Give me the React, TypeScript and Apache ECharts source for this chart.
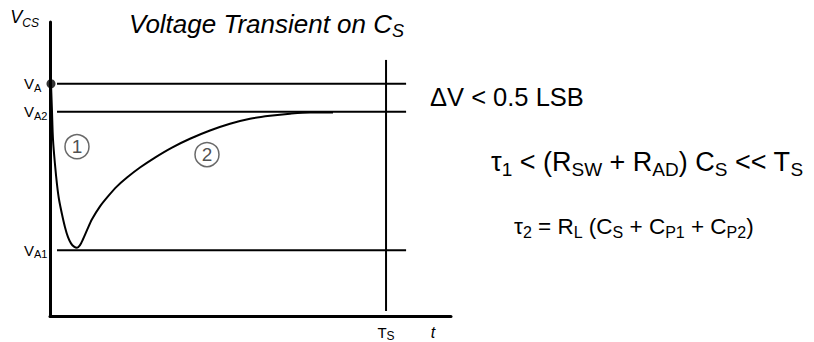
import React, { useEffect, useRef } from "react";
import * as echarts from "echarts";

// ---- data (time axis 0..100, voltage axis 0..100, arbitrary units) ----
const levelNames = ["A", "A2", "A1"];
const levelValues = [79, 69.5, 22.4];
const levelLineStart = 1.75;
const levelLineEnd = 88.8;
const sampleTime = 83.8;
const sampleLineFrom = 1.7;
const sampleLineTo = 87.1;
const timeLabelPos = 95.5;
const curveTime = [0.25, 0.5, 0.75, 1.25, 1.75, 2.24, 2.99, 3.74, 4.49, 5.24, 5.99, 6.73, 7.48, 8.23, 9.23, 10.47, 12.47, 14.46, 16.71, 19.2, 22.44, 26.18, 30.42, 34.91, 39.9, 44.89, 49.88, 54.86, 59.85, 64.84, 70.57];
const curveVolt = [79.0, 69.5, 60.0, 51.5, 44.7, 39.7, 34.6, 30.2, 26.8, 24.7, 23.6, 23.2, 24.1, 26.1, 29.2, 32.9, 37.3, 40.7, 44.1, 47.1, 50.5, 53.9, 57.3, 60.3, 63.1, 65.4, 67.1, 68.1, 68.8, 69.2, 69.2];
const markerLabels = ["1", "2"];
const markerTime = [6.73, 39.15];
const markerVolt = [57.6, 54.9];

const FONT = '"Liberation Sans", Arial, Helvetica, sans-serif';

export default function App() {
  const ref = useRef<HTMLDivElement>(null);
  useEffect(() => {
    if (!ref.current) return;
    const chart = echarts.init(ref.current, null, { renderer: "svg" });

    const levelSeries = levelValues.map((v, i) => ({
      type: "line",
      name: "V" + levelNames[i],
      data: [
        [levelLineStart, v],
        [levelLineEnd, v],
      ],
      symbol: "none",
      lineStyle: { color: "#000", width: 2 },
      z: 2,
    }));

    const subRich = (main: number, sub: number, italic = false) => ({
      m: { fontSize: main, fontFamily: FONT, fontWeight: "normal", fontStyle: italic ? "italic" : "normal", color: "#000", lineHeight: Math.round(main * 1.25), verticalAlign: "middle" },
      s: { fontSize: sub, fontFamily: FONT, fontWeight: "normal", fontStyle: italic ? "italic" : "normal", color: "#000", lineHeight: Math.round(sub * 0.85), verticalAlign: "bottom" },
    });

    const option: any = {
      animation: false,
      backgroundColor: "#fff",
      title: {
        text: "{m|Voltage Transient on C}{s|S}",
        left: 124,
        top: 2,
        textStyle: { fontWeight: "normal", rich: subRich(26, 18, true) },
      },
      grid: { left: 50, top: 22, width: 401, height: 295, containLabel: false },
      xAxis: {
        type: "value",
        min: 0,
        max: 100,
        axisLine: { show: true, onZero: false, lineStyle: { color: "#000", width: 3 } },
        axisTick: { show: false },
        splitLine: { show: false },
        axisLabel: {
          show: true,
          customValues: [sampleTime, timeLabelPos],
          margin: 7,
          formatter: (v: number) => (v === timeLabelPos ? "{i|t}" : "{m|T}{s|S}"),
          rich: {
            ...subRich(15, 12),
            i: { fontSize: 16, fontFamily: FONT, fontStyle: "italic", color: "#000", lineHeight: 19 },
          },
        },
      },
      yAxis: {
        type: "value",
        min: 0,
        max: 100,
        name: "{m|V}{s|CS}",
        nameLocation: "end",
        nameGap: 5,
        nameTextStyle: { align: "right", verticalAlign: "middle", padding: [0, 11, 0, 0], rich: subRich(18, 12, true) },
        axisLine: { show: true, onZero: false, lineStyle: { color: "#000", width: 3 } },
        axisTick: { show: false },
        splitLine: { show: false },
        axisLabel: {
          show: true,
          customValues: levelValues,
          align: "left",
          margin: 26,
          formatter: (v: number) => "{m|V}{s|" + levelNames[levelValues.indexOf(v)] + "}",
          rich: subRich(15, 11),
        },
      },
      graphic: [
        {
          type: "text",
          left: 430,
          top: 84,
          style: { text: "ΔV < 0.5 LSB", font: "25.5px " + FONT, fill: "#000" },
        },
        {
          type: "text",
          left: 491,
          top: 148,
          style: {
            text: "{m|τ}{s|1}{m| < (R}{s|SW}{m| + R}{s|AD}{m|) C}{s|S}{m| << T}{s|S}",
            rich: subRich(27, 19),
          },
        },
        {
          type: "text",
          left: 514,
          top: 215,
          style: {
            text: "{m|τ}{s|2}{m| = R}{s|L}{m| (C}{s|S}{m| + C}{s|P1}{m| + C}{s|P2}{m|)}",
            rich: subRich(22.5, 16),
          },
        },
      ],
      series: [
        ...levelSeries,
        {
          type: "line",
          name: "TS",
          data: [
            [sampleTime, sampleLineFrom],
            [sampleTime, sampleLineTo],
          ],
          symbol: "none",
          lineStyle: { color: "#000", width: 2 },
          z: 2,
        },
        {
          type: "line",
          name: "VCS",
          data: curveTime.map((t, i) => [t, curveVolt[i]]),
          smooth: 0.3,
          symbol: "none",
          lineStyle: { color: "#000", width: 2 },
          z: 3,
        },
        {
          type: "scatter",
          name: "start",
          data: [[curveTime[0], curveVolt[0]]],
          symbol: "circle",
          symbolSize: 9,
          itemStyle: { color: "#000" },
          z: 4,
        },
        {
          type: "scatter",
          name: "markers",
          data: markerLabels.map((l, i) => ({ value: [markerTime[i], markerVolt[i]], name: l })),
          symbol: "circle",
          symbolSize: 24,
          itemStyle: { color: "rgba(255,255,255,0)", borderColor: "#444", borderWidth: 1.5 },
          label: { show: true, position: "inside", formatter: "{b}", fontSize: 19, fontFamily: FONT, color: "#222" },
          z: 4,
        },
      ],
    };
    chart.setOption(option);
    return () => chart.dispose();
  }, []);
  return <div ref={ref} style={{ position: "fixed", left: 0, top: 0, width: 814, height: 342, background: "#fff" }} />;
}
